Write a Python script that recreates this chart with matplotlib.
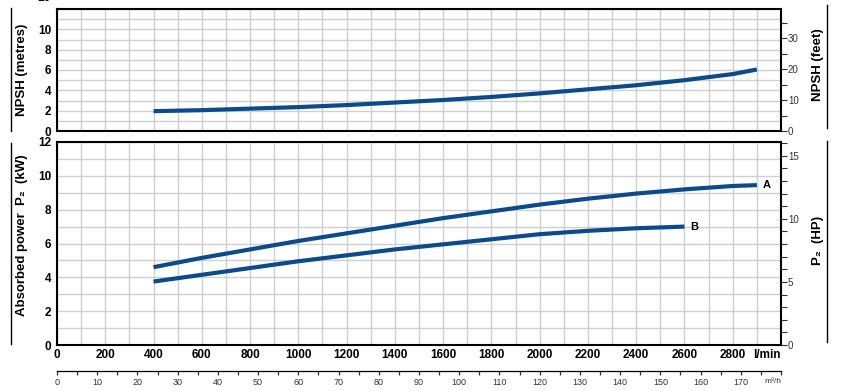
import matplotlib
matplotlib.use('Agg')
import matplotlib.pyplot as plt
from matplotlib.lines import Line2D
from matplotlib.ticker import MultipleLocator

plt.rcParams['font.family'] = ['Liberation Sans', 'DejaVu Sans']

# flow in l/min
flow_npsh = [400, 600, 800, 1000, 1200, 1400, 1600, 1800, 2000, 2200, 2400, 2600, 2800, 2900]
npsh_m = [1.95, 2.05, 2.2, 2.35, 2.55, 2.8, 3.05, 3.35, 3.7, 4.1, 4.5, 5.0, 5.6, 6.05]

flow_a = [400, 600, 800, 1000, 1200, 1400, 1600, 1800, 2000, 2200, 2400, 2600, 2800, 2900]
power_a = [4.6, 5.15, 5.65, 6.15, 6.6, 7.05, 7.5, 7.9, 8.3, 8.65, 8.95, 9.2, 9.4, 9.45]

flow_b = [400, 600, 800, 1000, 1200, 1400, 1600, 1800, 2000, 2200, 2400, 2600]
power_b = [3.75, 4.15, 4.55, 4.95, 5.3, 5.65, 5.95, 6.25, 6.55, 6.75, 6.9, 7.0]

lmin_ticks = [0, 200, 400, 600, 800, 1000, 1200, 1400, 1600, 1800, 2000, 2200, 2400, 2600, 2800]
m3h_ticks = [0, 10, 20, 30, 40, 50, 60, 70, 80, 90, 100, 110, 120, 130, 140, 150, 160, 170]

BLUE = '#0b4a8b'
GRID = '#cfcfcf'
W, H = 841, 391


def box(x0, y0, x1, y1):
    # pixel box (top-left origin) -> figure coords
    return [x0 / W, 1 - y1 / H, (x1 - x0) / W, (y1 - y0) / H]


def style(ax, ymax, ylabels_max):
    ax.set_xlim(0, 3000)
    ax.set_ylim(0, ymax)
    ax.xaxis.set_minor_locator(MultipleLocator(100))
    ax.yaxis.set_minor_locator(MultipleLocator(1))
    ax.grid(which='both', color=GRID, linewidth=1.0)
    ax.set_axisbelow(True)
    for s in ax.spines.values():
        s.set_linewidth(1.5)
    ax.tick_params(which='both', length=0)
    ax.set_yticks(range(0, ylabels_max + 1, 2))
    ax.tick_params(axis='y', labelsize=8.5, pad=4)
    for t in ax.get_yticklabels():
        t.set_fontweight('bold')


def right_scale(ax, top, major, minor):
    r = ax.twinx()
    r.set_ylim(0, top)
    r.yaxis.set_major_locator(MultipleLocator(major))
    r.yaxis.set_minor_locator(MultipleLocator(minor))
    r.tick_params(which='both', direction='out', length=4, width=0.8,
                  labelsize=7, colors='#333333', pad=1)
    for s in r.spines.values():
        s.set_visible(False)
    return r


fig = plt.figure(figsize=(W / 100, H / 100), dpi=100)

# NPSH panel
ax1 = fig.add_axes(box(57, 9, 781, 131))
style(ax1, 12, 10)
ax1.set_xticks(lmin_ticks)
ax1.tick_params(axis='x', labelbottom=False)
ax1.plot(flow_npsh, npsh_m, color=BLUE, lw=3, solid_capstyle='butt')
right_scale(ax1, 12 * 3.281, 10, 5)

# cut-off label left over at the top edge
fig.text(44 / W, 1 + 2 / H, '10', fontsize=8.5, fontweight='bold', ha='center', va='center')

# power panel
ax2 = fig.add_axes(box(57, 142, 781, 345))
style(ax2, 12, 12)
ax2.set_xticks(lmin_ticks + [3000])
ax2.set_xticklabels([str(v) for v in lmin_ticks] + ['l/min'])
ax2.tick_params(axis='x', labelsize=8.5, pad=3)
for t in ax2.get_xticklabels():
    t.set_fontweight('bold')
ax2.get_xticklabels()[-1].set_ha('right')
ax2.plot(flow_a, power_a, color=BLUE, lw=3, solid_capstyle='butt')
ax2.plot(flow_b, power_b, color=BLUE, lw=3, solid_capstyle='butt')
ax2.text(flow_a[-1] + 25, power_a[-1], 'A', fontsize=8, fontweight='bold', va='center', ha='left')
ax2.text(flow_b[-1] + 25, power_b[-1], 'B', fontsize=8, fontweight='bold', va='center', ha='left')
right_scale(ax2, 12 * 1.341, 5, 1)

# m3/h scale
ax3 = fig.add_axes(box(57, 369, 781, 371))
ax3.set_xlim(0, 180)
ax3.set_ylim(0, 1)
ax3.set_yticks([])
for k in ['top', 'left', 'right']:
    ax3.spines[k].set_visible(False)
ax3.spines['bottom'].set_linewidth(0.9)
ax3.set_xticks(m3h_ticks + [180])
ax3.set_xticklabels([str(v) for v in m3h_ticks] + ['m³/h'])
ax3.xaxis.set_minor_locator(MultipleLocator(5))
ax3.tick_params(which='both', direction='out', length=3, width=0.9, labelsize=6.5, colors='#333333', pad=2)
ax3.get_xticklabels()[-1].set_ha('right')
ax3.get_xticklabels()[-1].set_fontsize(6)
ax3.patch.set_visible(False)

# axis titles with rules
fig.text(22 / W, 1 - 70 / H, 'NPSH (metres)', rotation=90, fontsize=9.5, fontweight='bold', ha='center', va='center')
fig.text(22 / W, 1 - 235 / H, 'Absorbed power  P₂  (kW)', rotation=90, fontsize=9.5, fontweight='bold', ha='center', va='center')
fig.text(818 / W, 1 - 65 / H, 'NPSH (feet)', rotation=90, fontsize=9.5, fontweight='bold', ha='center', va='center')
fig.text(818 / W, 1 - 240 / H, 'P₂  (HP)', rotation=90, fontsize=9.5, fontweight='bold', ha='center', va='center')

for x, y0, y1 in [(11, 8, 131), (11, 143, 344), (827, 5, 128), (827, 141, 342)]:
    fig.add_artist(Line2D([x / W, x / W], [1 - y0 / H, 1 - y1 / H], color='black', lw=1.0))

fig.savefig('out.png', dpi=100)
